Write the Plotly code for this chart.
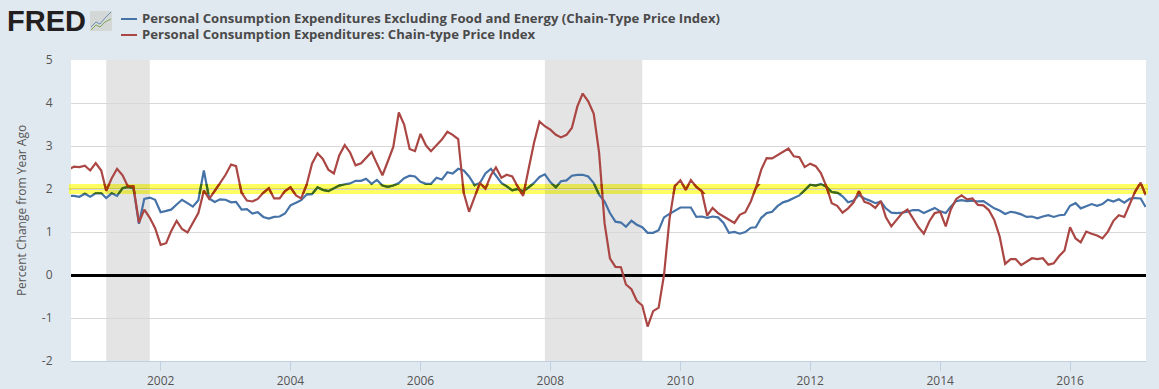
import pandas as pd
import plotly.graph_objects as go

W, H = 1159, 389
L, R, T, B = 71, 1146, 60, 361

start_month = "2000-08-01"
core_pce = [
    1.84,1.84,1.82,1.89,1.82,
    1.90,1.90,1.79,1.90,1.84,2.02,2.05,2.02,1.19,1.77,1.80,1.75,
    1.46,1.49,1.52,1.64,1.75,1.67,1.59,1.74,2.43,1.78,1.70,1.76,
    1.75,1.69,1.70,1.52,1.53,1.43,1.46,1.35,1.31,1.35,1.36,1.43,
    1.62,1.68,1.74,1.87,1.88,2.04,1.98,1.95,2.02,2.08,2.11,2.13,
    2.19,2.19,2.24,2.12,2.21,2.08,2.05,2.08,2.14,2.25,2.31,2.29,
    2.17,2.12,2.12,2.26,2.22,2.39,2.36,2.47,2.43,2.29,2.09,2.14,
    2.36,2.47,2.31,2.14,2.06,1.97,2.00,1.95,2.04,2.14,2.28,2.34,
    2.16,2.04,2.18,2.20,2.31,2.33,2.33,2.29,2.14,1.87,1.71,1.44,
    1.24,1.22,1.12,1.26,1.17,1.11,0.98,0.98,1.04,1.34,1.42,1.50,
    1.57,1.57,1.57,1.35,1.36,1.33,1.36,1.34,1.21,0.98,1.00,0.96,
    1.00,1.10,1.11,1.33,1.44,1.47,1.60,1.69,1.73,1.79,1.85,1.97,
    2.10,2.08,2.12,2.05,1.93,1.91,1.83,1.69,1.73,1.86,1.78,1.73,
    1.67,1.71,1.55,1.45,1.44,1.45,1.47,1.51,1.51,1.44,1.51,1.56,
    1.48,1.44,1.59,1.72,1.74,1.72,1.73,1.71,1.72,1.64,1.55,1.50,
    1.42,1.47,1.45,1.41,1.35,1.36,1.32,1.36,1.39,1.35,1.39,1.40,
    1.61,1.67,1.55,1.60,1.65,1.61,1.65,1.75,1.71,1.76,1.68,1.77,
    1.79,1.78,1.58,
]
all_pce = [
    2.45,2.52,2.51,2.54,2.43,
    2.60,2.43,1.96,2.25,2.47,2.32,2.06,2.06,1.22,1.52,1.33,1.09,
    0.70,0.74,1.02,1.26,1.07,0.99,1.23,1.44,1.96,1.77,1.95,2.14,
    2.33,2.57,2.53,1.91,1.73,1.71,1.77,1.91,2.02,1.78,1.78,1.95,
    2.04,1.85,1.78,2.10,2.59,2.83,2.70,2.45,2.36,2.78,3.02,2.85,
    2.55,2.60,2.72,2.86,2.59,2.32,2.64,2.98,3.78,3.50,2.93,2.88,
    3.28,3.01,2.88,3.01,3.15,3.33,3.26,3.16,1.91,1.47,1.79,2.14,
    2.01,2.32,2.50,2.26,2.33,2.29,2.06,1.84,2.47,3.07,3.57,3.46,
    3.38,3.26,3.20,3.26,3.42,3.92,4.22,4.04,3.75,2.85,1.20,0.39,
    0.19,0.18,-0.22,-0.33,-0.60,-0.71,-1.20,-0.84,-0.76,0.00,1.30,2.07,
    2.20,1.98,2.21,2.05,1.95,1.38,1.56,1.44,1.36,1.29,1.21,1.40,
    1.46,1.71,2.02,2.45,2.72,2.71,2.79,2.87,2.94,2.76,2.74,2.51,
    2.59,2.53,2.37,2.06,1.67,1.61,1.45,1.55,1.69,1.95,1.70,1.66,
    1.56,1.72,1.35,1.13,1.27,1.44,1.52,1.32,1.11,0.96,1.25,1.44,
    1.47,1.13,1.52,1.77,1.85,1.76,1.78,1.63,1.62,1.51,1.28,0.90,
    0.26,0.37,0.37,0.23,0.31,0.39,0.37,0.39,0.24,0.27,0.44,0.57,
    1.11,0.85,0.76,1.01,0.96,0.92,0.85,1.01,1.26,1.39,1.35,1.63,
    1.94,2.15,1.86,
]
series_names = [
    "Personal Consumption Expenditures Excluding Food and Energy (Chain-Type Price Index)",
    "Personal Consumption Expenditures: Chain-type Price Index",
]
recessions = [("2001-03-01", "2001-11-01"), ("2007-12-01", "2009-06-01")]
target_value = 2
target_low, target_high = 1.885, 2.115
year_ticks = [2002, 2004, 2006, 2008, 2010, 2012, 2014, 2016]
y_ticks = [-2, -1, 0, 1, 2, 3, 4, 5]
y_range = [-2, 5]
x_range = ["2000-08-15", "2017-03-03"]

months = pd.date_range(start_month, periods=len(all_pce), freq="MS")
BLUE, RED = "#4572A7", "#AA4643"
BLUE_ON_BAND, RED_ON_BAND = "#3F6A10", "#A63A00"
INK = "#555555"


def px(x):
    return (x - L) / (R - L)


def py(y):
    return (B - y) / (B - T)


def paper_path(points):
    return "M " + " L ".join(f"{px(x):.5f},{py(y):.5f}" for x, y in points)


fig = go.Figure()
fig.add_trace(go.Scatter(x=months, y=core_pce, mode="lines", name=series_names[0],
                         line=dict(color=BLUE, width=2.2), showlegend=False))
fig.add_trace(go.Scatter(x=months, y=all_pce, mode="lines", name=series_names[1],
                         line=dict(color=RED, width=2.2), showlegend=False))
# The same two series again, clipped to the target band, where the reference
# shows them tinted by the yellow highlight.
fig.add_trace(go.Scatter(x=months, y=core_pce, mode="lines", yaxis="y2", hoverinfo="skip",
                         line=dict(color=BLUE_ON_BAND, width=2.2), showlegend=False))
fig.add_trace(go.Scatter(x=months, y=all_pce, mode="lines", yaxis="y2", hoverinfo="skip",
                         line=dict(color=RED_ON_BAND, width=2.2), showlegend=False))

span = y_range[1] - y_range[0]
shapes = [
    dict(type="rect", xref="paper", yref="paper", layer="below", x0=0, x1=1, y0=0, y1=1,
         fillcolor="#FFFFFF", line_width=0),
    # target band, slightly wider than the plot
    dict(type="rect", xref="paper", yref="y", layer="below", x0=px(69), x1=px(1148),
         y0=target_low, y1=target_high, fillcolor="rgba(255,255,0,0.62)", line_width=0),
    dict(type="line", xref="paper", yref="y", layer="below", x0=px(69), x1=px(1148),
         y0=target_value, y1=target_value, line=dict(color="#C9BE1E", width=1)),
]
for a, b in recessions:
    shapes.append(dict(type="rect", xref="x", yref="paper", layer="between", x0=a, x1=b,
                       y0=0, y1=1, fillcolor="rgba(0,0,0,0.105)", line_width=0))
# header swatches
for y, c in ((19, BLUE), (35, RED)):
    shapes.append(dict(type="line", xref="paper", yref="paper", x0=px(121), x1=px(137),
                       y0=py(y), y1=py(y), line=dict(color=c, width=2)))
# logo icon
shapes.append(dict(type="rect", xref="paper", yref="paper", x0=px(90), x1=px(112),
                   y0=py(31), y1=py(11), fillcolor="#D3D8D6", line_width=0))
shapes.append(dict(type="path", xref="paper", yref="paper",
                   path=paper_path([(91, 27), (96, 22), (100, 24), (105, 18), (111, 12)]),
                   line=dict(color="#6F8FB5", width=1)))
shapes.append(dict(type="path", xref="paper", yref="paper",
                   path=paper_path([(91, 30), (96, 25), (100, 27), (105, 22), (111, 19)]),
                   line=dict(color="#7FA65A", width=1)))

annotations = [
    dict(text=f"<b>{series_names[0]}</b>", xref="paper", yref="paper", x=px(142), y=py(18),
         xanchor="left", yanchor="middle", showarrow=False, xshift=-2,
         font=dict(family="Open Sans", size=13.15, color="#4A4A4A")),
    dict(text=f"<b>{series_names[1]}</b>", xref="paper", yref="paper", x=px(142), y=py(34),
         xanchor="left", yanchor="middle", showarrow=False, xshift=-2,
         font=dict(family="Open Sans", size=13.15, color="#4A4A4A")),
    dict(text="<b>FRED</b>", xref="paper", yref="paper", x=px(5), y=py(21),
         xanchor="left", yanchor="middle", showarrow=False,
         font=dict(family="Liberation Sans", size=29, color="#231F20")),
]

fig.update_layout(
    width=W, height=H, autosize=False,
    margin=dict(l=L, r=W - R, t=T, b=H - B, pad=0),
    paper_bgcolor="#E1E9F0", plot_bgcolor="rgba(0,0,0,0)",
    hovermode=False,
    showlegend=False,
    font=dict(family="Open Sans", size=12, color=INK),
    shapes=shapes, annotations=annotations,
    xaxis=dict(type="date", range=x_range, tickmode="array", automargin=False,
               tickvals=[f"{y}-01-01" for y in year_ticks], ticktext=[str(y) for y in year_ticks],
               showgrid=False, zeroline=False, showline=True, linecolor="#C0D0E0", linewidth=1,
               ticks="outside", ticklen=9, tickwidth=1, tickcolor="#C0D0E0",
               tickfont=dict(size=12, color=INK)),
    yaxis=dict(range=y_range, tickmode="array", tickvals=y_ticks, ticktext=[str(v) for v in y_ticks],
               automargin=False,
               showgrid=True, gridcolor="#D8D8D8", gridwidth=1,
               zeroline=True, zerolinecolor="#000000", zerolinewidth=2.5, showline=False,
               ticks="outside", ticklen=15, tickcolor="rgba(0,0,0,0)",
               tickfont=dict(size=12, color=INK),
               title=dict(text="Percent Change from Year Ago", standoff=12,
                          font=dict(size=12, color=INK))),
    yaxis2=dict(range=[target_low, target_high], visible=False, anchor="x", fixedrange=True,
                domain=[(target_low - y_range[0]) / span, (target_high - y_range[0]) / span]),
)
fig.write_html("out.html", config={"displayModeBar": False},
               post_script="document.body.style.margin='0';document.body.style.overflow='hidden';")
